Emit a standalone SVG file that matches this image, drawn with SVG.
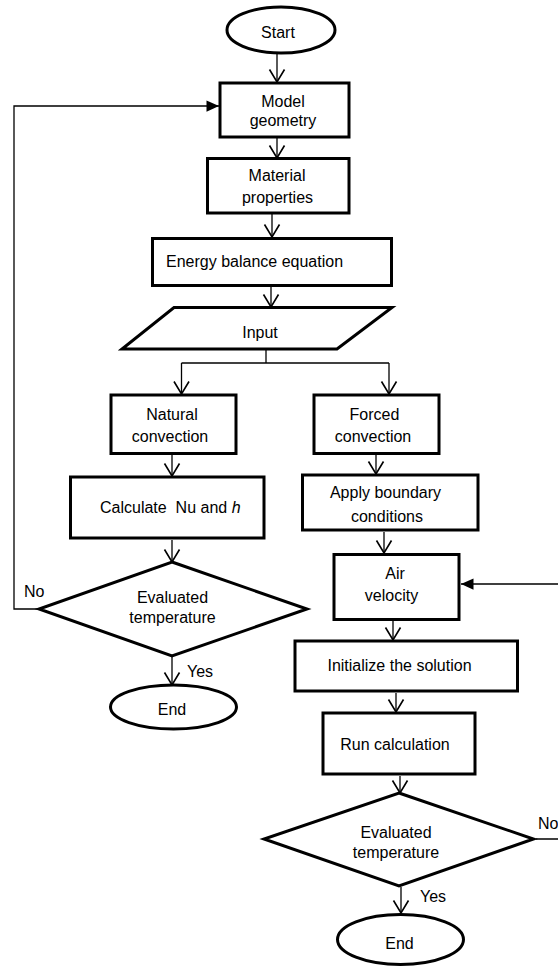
<svg xmlns="http://www.w3.org/2000/svg" width="558" height="966" viewBox="0 0 558 966">
<defs>
<style>
.n{fill:#fff;stroke:#000;stroke-width:3}
.c{fill:none;stroke:#000;stroke-width:1.3}
.t{font-family:"Liberation Sans",Arial,sans-serif;font-size:16px;fill:#000}
.m{text-anchor:middle}
</style>
<marker id="v" markerUnits="userSpaceOnUse" markerWidth="20" markerHeight="20" viewBox="-12 -8 14 16" refX="0" refY="0" orient="auto">
<path d="M-10,-6 L0,0 L-10,6" fill="none" stroke="#000" stroke-width="1.3"/>
</marker>
<marker id="f" markerUnits="userSpaceOnUse" markerWidth="20" markerHeight="20" viewBox="-12 -8 14 16" refX="0" refY="0" orient="auto">
<path d="M-10,-4.5 L0,0 L-10,4.5 Z" fill="#000"/>
</marker>
</defs>
<rect width="558" height="966" fill="#fff"/>
<g id="connectors">
<path class="c" d="M277,54 V82" marker-end="url(#v)"/>
<path class="c" d="M277,138 V158" marker-end="url(#v)"/>
<path class="c" d="M272,214 V237" marker-end="url(#v)"/>
<path class="c" d="M271,287 V307" marker-end="url(#v)"/>
<path class="c" d="M266,350 V363"/>
<path class="c" d="M181.5,363 H389"/>
<path class="c" d="M181.5,363 V394" marker-end="url(#v)"/>
<path class="c" d="M389,363 V394" marker-end="url(#v)"/>
<path class="c" d="M172,455 V476" marker-end="url(#v)"/>
<path class="c" d="M172,540 V562" marker-end="url(#v)"/>
<path class="c" d="M172,657 V685" marker-end="url(#v)"/>
<path class="c" d="M39,609 H14 V106 H219" marker-end="url(#f)"/>
<path class="c" d="M376,455 V474" marker-end="url(#v)"/>
<path class="c" d="M384,532 V553" marker-end="url(#v)"/>
<path class="c" d="M393,621 V640" marker-end="url(#v)"/>
<path class="c" d="M396,693 V712" marker-end="url(#v)"/>
<path class="c" d="M400,776 V793" marker-end="url(#v)"/>
<path class="c" d="M401,887 V913" marker-end="url(#v)"/>
<path class="c" d="M536,839 H560 V584 H461" marker-end="url(#f)"/>
</g>
<g id="start">
<ellipse class="n" cx="281" cy="30" rx="54" ry="23"/>
<text class="t m" x="278" y="38">Start</text>
</g>
<g id="model-geometry">
<rect class="n" x="220" y="83" width="129" height="54"/>
<text class="t m" x="283" y="107">Model</text>
<text class="t m" x="283" y="126">geometry</text>
</g>
<g id="material-properties">
<rect class="n" x="207.5" y="158.5" width="141.5" height="54.5"/>
<text class="t m" x="277" y="181">Material</text>
<text class="t m" x="277.5" y="203">properties</text>
</g>
<g id="energy-balance">
<rect class="n" x="152.5" y="238.5" width="239" height="47"/>
<text class="t" x="166" y="267">Energy balance equation</text>
</g>
<g id="input">
<polygon class="n" points="174,307.5 392,307.5 337,349 122,349"/>
<text class="t m" x="260" y="338">Input</text>
</g>
<g id="natural-convection">
<rect class="n" x="111" y="395" width="125" height="58.5"/>
<text class="t m" x="172" y="420">Natural</text>
<text class="t m" x="170" y="441.5">convection</text>
</g>
<g id="forced-convection">
<rect class="n" x="314" y="395" width="125" height="58.5"/>
<text class="t m" x="374.5" y="420">Forced</text>
<text class="t m" x="373" y="441.5">convection</text>
</g>
<g id="calculate">
<rect class="n" x="70.5" y="477" width="193.5" height="61"/>
<text class="t" x="100" y="513" xml:space="preserve">Calculate  Nu and <tspan font-style="italic">h</tspan></text>
</g>
<g id="apply-boundary">
<rect class="n" x="302.5" y="475" width="175.5" height="55"/>
<text class="t m" x="385.5" y="498">Apply boundary</text>
<text class="t m" x="387" y="521.5">conditions</text>
</g>
<g id="air-velocity">
<rect class="n" x="334" y="554.5" width="125" height="65"/>
<text class="t m" x="395" y="579">Air</text>
<text class="t m" x="391.5" y="600.5">velocity</text>
</g>
<g id="decision-left">
<polygon class="n" points="172,562 307,609 172,656 39,609"/>
<text class="t m" x="172.5" y="602.5">Evaluated</text>
<text class="t m" x="172.5" y="623">temperature</text>
<text class="t" x="24" y="596.5">No</text>
<text class="t" x="187" y="676.5">Yes</text>
</g>
<g id="end-left">
<ellipse class="n" cx="173.5" cy="707" rx="63" ry="22"/>
<text class="t m" x="172" y="714.5">End</text>
</g>
<g id="initialize">
<rect class="n" x="295" y="641" width="222.5" height="50"/>
<text class="t m" x="399.5" y="670.5">Initialize the solution</text>
</g>
<g id="run-calculation">
<rect class="n" x="323" y="713" width="152" height="61"/>
<text class="t m" x="395" y="750">Run calculation</text>
</g>
<g id="decision-right">
<polygon class="n" points="399,793 533.5,839 399,886 264,839"/>
<text class="t m" x="396" y="837.5">Evaluated</text>
<text class="t m" x="396" y="858">temperature</text>
<text class="t" x="538" y="828.5">No</text>
<text class="t" x="420" y="901.5">Yes</text>
</g>
<g id="end-right">
<ellipse class="n" cx="400.5" cy="939.5" rx="63" ry="25"/>
<text class="t m" x="399.5" y="949">End</text>
</g>
</svg>
